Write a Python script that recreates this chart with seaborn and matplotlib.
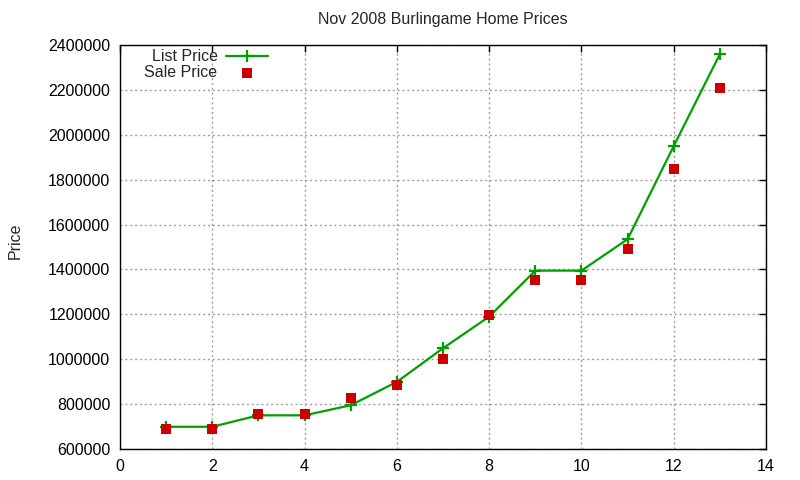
import matplotlib
matplotlib.use("Agg")
import matplotlib.pyplot as plt
import seaborn as sns
import pandas as pd

# Données
houses = [1, 2, 3, 4, 5, 6, 7, 8, 9, 10, 11, 12, 13]
list_price = [699000, 699000, 750000, 750000, 795000, 899000, 1049000, 1190000,
              1395000, 1395000, 1535000, 1950000, 2360000]
sale_price = [689000, 689000, 755000, 755000, 829000, 884000, 1000000, 1195000,
              1355000, 1355000, 1490000, 1850000, 2210000]
x_ticks = [0, 2, 4, 6, 8, 10, 12, 14]
y_ticks = [600000, 800000, 1000000, 1200000, 1400000, 1600000, 1800000,
           2000000, 2200000, 2400000]

df = pd.DataFrame({"house": houses, "list": list_price, "sale": sale_price})

sns.set_style("white")
plt.rcParams["font.family"] = ["Liberation Sans", "DejaVu Sans"]
fs = 11.5

fig = plt.figure(figsize=(8, 4.8), dpi=100)
ax = fig.add_axes([0.15, 0.0646, 0.8075, 0.8414])

sns.lineplot(data=df, x="house", y="list", ax=ax, color="#00a000", linewidth=1.6,
             marker="+", markersize=8, markeredgewidth=1.6, markeredgecolor="#00a000",
             label="List Price", zorder=3)
sns.scatterplot(data=df, x="house", y="sale", ax=ax, color="#cc0000", marker="s",
                s=45, linewidth=0, label="Sale Price", zorder=4)

ax.set_xlim(0, 14)
ax.set_ylim(600000, 2400000)
ax.set_xticks(x_ticks)
ax.set_yticks(y_ticks)
ax.set_yticklabels([str(v) for v in y_ticks])
ax.grid(True, color="#a0a0a0", linestyle=(0, (1.5, 2)), linewidth=1)
ax.tick_params(direction="in", length=5, width=1, top=True, right=True,
               labelsize=fs, colors="black", pad=7)
for s in ax.spines.values():
    s.set_color("black")
    s.set_linewidth(1)

ax.set_xlabel("")
ax.set_ylabel("Price", fontsize=fs)
ax.yaxis.set_label_coords(-0.150, 0.515)
ax.set_title("Nov 2008 Burlingame Home Prices", fontsize=fs, pad=15)

leg = ax.legend(loc="upper right", bbox_to_anchor=(0.229, 0.99), frameon=False,
                markerfirst=False, handlelength=2.6, handletextpad=0.55,
                borderpad=0, borderaxespad=0, labelspacing=0.08, fontsize=fs)
for t in leg.get_texts():
    t.set_ha("right")
leg._legend_box.align = "right"

fig.savefig("out.png", dpi=100)
